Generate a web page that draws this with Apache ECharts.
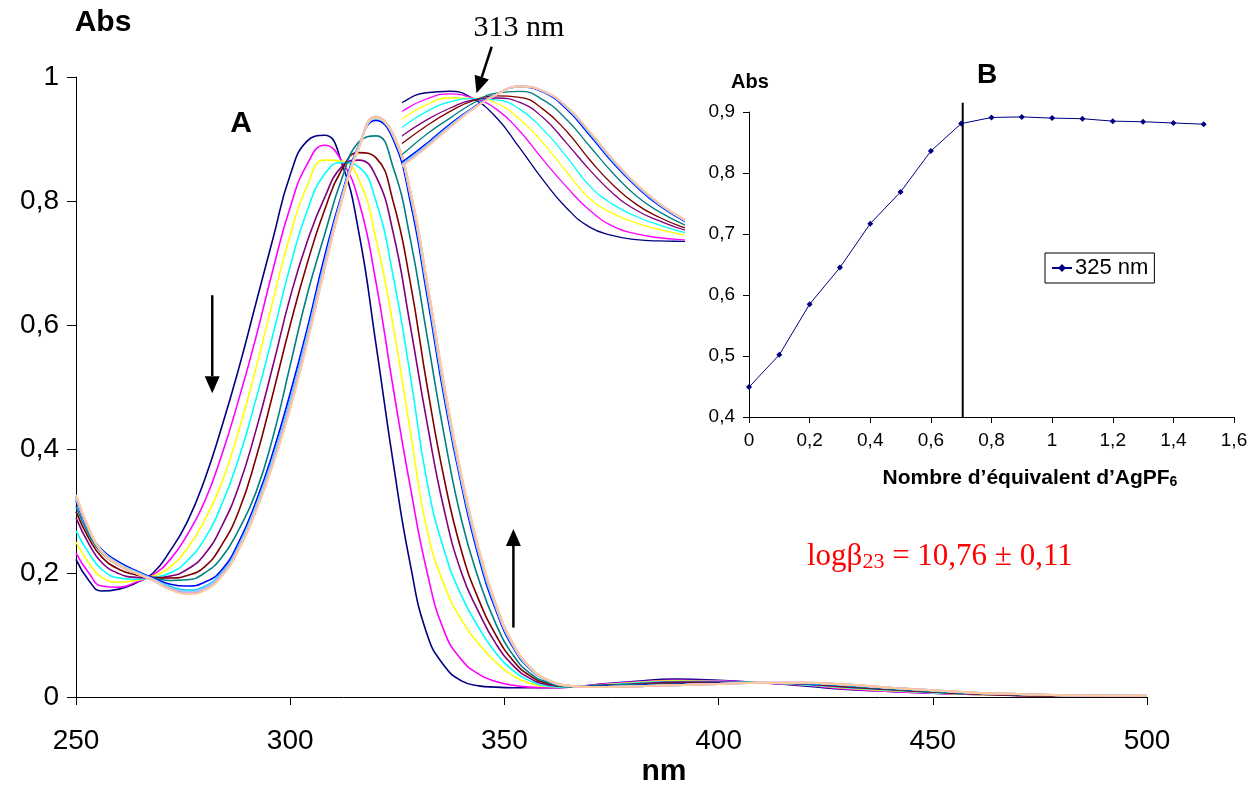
<!DOCTYPE html>
<html><head><meta charset="utf-8">
<script src="https://cdn.jsdelivr.net/npm/echarts@6/dist/echarts.min.js"></script>
<style>html,body{margin:0;padding:0;background:#fff}#c{width:1257px;height:786px}</style>
</head><body><div id="c"></div>
<script>
// ---- Data (panel A: UV-vis spectra) ----
const wavelengths = [250,253,256,260,264,268,272,276,280,284,288,292,296,300,304,308,312,316,320,324,328,332,336,340,344,348,352,356,360,365,370,380,390,400,410,420,430,440,450,460,480,500];
const spec00 = [0.222,0.188,0.171,0.174,0.184,0.2,0.236,0.283,0.35,0.435,0.53,0.635,0.74,0.842,0.897,0.906,0.862,0.75,0.57,0.38,0.215,0.1,0.05,0.026,0.018,0.016,0.015,0.015,0.015,0.016,0.019,0.025,0.029,0.027,0.023,0.018,0.012,0.009,0.006,0.004,0.002,0.002];
const spec01 = [0.232,0.2,0.179,0.177,0.185,0.197,0.222,0.262,0.315,0.39,0.48,0.58,0.69,0.79,0.86,0.89,0.865,0.8,0.67,0.5,0.34,0.2,0.105,0.06,0.037,0.025,0.019,0.016,0.015,0.016,0.019,0.024,0.027,0.026,0.023,0.019,0.013,0.009,0.006,0.004,0.002,0.002];
const spec02 = [0.25,0.216,0.193,0.185,0.188,0.195,0.21,0.24,0.285,0.345,0.43,0.53,0.64,0.745,0.825,0.866,0.864,0.835,0.74,0.6,0.43,0.268,0.18,0.124,0.086,0.056,0.034,0.022,0.017,0.016,0.018,0.023,0.026,0.025,0.023,0.02,0.014,0.01,0.007,0.004,0.002,0.002];
const spec03 = [0.268,0.232,0.206,0.192,0.19,0.193,0.2,0.22,0.255,0.31,0.385,0.48,0.585,0.695,0.785,0.843,0.862,0.855,0.8,0.68,0.52,0.345,0.235,0.163,0.112,0.071,0.043,0.026,0.018,0.016,0.018,0.022,0.025,0.025,0.023,0.02,0.015,0.011,0.007,0.005,0.002,0.002];
const spec04 = [0.289,0.247,0.217,0.199,0.193,0.192,0.195,0.206,0.23,0.275,0.34,0.43,0.535,0.645,0.735,0.805,0.855,0.866,0.84,0.75,0.6,0.44,0.3,0.2,0.137,0.086,0.051,0.03,0.02,0.017,0.018,0.021,0.024,0.024,0.023,0.021,0.016,0.012,0.008,0.005,0.002,0.002];
const spec05 = [0.299,0.256,0.226,0.206,0.197,0.193,0.192,0.196,0.21,0.245,0.3,0.385,0.49,0.6,0.7,0.785,0.85,0.878,0.87,0.8,0.67,0.5,0.35,0.235,0.157,0.1,0.059,0.034,0.022,0.017,0.018,0.02,0.022,0.023,0.023,0.021,0.017,0.012,0.008,0.005,0.002,0.002];
const spec06 = [0.307,0.262,0.232,0.212,0.2,0.192,0.188,0.189,0.2,0.225,0.27,0.33,0.42,0.535,0.65,0.745,0.835,0.895,0.905,0.855,0.74,0.58,0.42,0.285,0.19,0.118,0.068,0.038,0.024,0.017,0.018,0.02,0.021,0.022,0.023,0.022,0.018,0.013,0.009,0.006,0.003,0.002];
const spec07 = [0.316,0.268,0.238,0.218,0.204,0.192,0.182,0.179,0.185,0.205,0.25,0.315,0.395,0.49,0.595,0.71,0.81,0.89,0.93,0.9,0.8,0.645,0.48,0.34,0.225,0.14,0.08,0.045,0.027,0.018,0.017,0.018,0.02,0.022,0.023,0.022,0.019,0.014,0.01,0.006,0.003,0.002];
const spec08 = [0.32,0.27,0.236,0.215,0.202,0.19,0.178,0.172,0.178,0.2,0.244,0.308,0.386,0.478,0.585,0.7,0.805,0.888,0.933,0.905,0.81,0.656,0.49,0.348,0.232,0.145,0.083,0.046,0.027,0.018,0.016,0.017,0.019,0.021,0.023,0.022,0.019,0.015,0.01,0.006,0.003,0.002];
const spec09 = [0.324,0.271,0.235,0.214,0.201,0.189,0.175,0.169,0.175,0.197,0.24,0.304,0.38,0.472,0.578,0.695,0.802,0.887,0.936,0.907,0.814,0.662,0.496,0.352,0.236,0.147,0.085,0.047,0.028,0.018,0.016,0.017,0.019,0.021,0.023,0.023,0.02,0.015,0.011,0.007,0.003,0.002];
const spec10 = [0.323,0.271,0.235,0.214,0.2,0.189,0.175,0.168,0.174,0.196,0.239,0.302,0.378,0.469,0.576,0.693,0.801,0.886,0.935,0.907,0.815,0.664,0.498,0.354,0.237,0.148,0.085,0.047,0.028,0.018,0.016,0.017,0.019,0.021,0.023,0.023,0.02,0.015,0.011,0.007,0.003,0.002];
const spec11 = [0.325,0.272,0.234,0.213,0.2,0.188,0.174,0.167,0.173,0.196,0.239,0.301,0.377,0.467,0.574,0.692,0.8,0.885,0.934,0.907,0.816,0.666,0.5,0.355,0.238,0.149,0.086,0.048,0.028,0.018,0.016,0.017,0.019,0.021,0.023,0.023,0.02,0.015,0.011,0.007,0.003,0.002];
const spec12 = [0.322,0.27,0.235,0.214,0.201,0.19,0.176,0.17,0.176,0.198,0.242,0.306,0.383,0.475,0.582,0.698,0.804,0.888,0.935,0.906,0.812,0.66,0.494,0.35,0.234,0.146,0.084,0.047,0.027,0.018,0.016,0.017,0.019,0.021,0.023,0.023,0.02,0.015,0.011,0.007,0.003,0.002];
const spec13 = [0.325,0.272,0.234,0.213,0.2,0.188,0.174,0.167,0.173,0.195,0.238,0.3,0.376,0.466,0.573,0.69,0.8,0.885,0.935,0.908,0.817,0.667,0.501,0.356,0.239,0.15,0.086,0.048,0.028,0.018,0.016,0.017,0.019,0.021,0.023,0.023,0.02,0.015,0.011,0.007,0.003,0.002];
const spec14 = [0.324,0.271,0.234,0.213,0.2,0.188,0.174,0.167,0.173,0.196,0.239,0.301,0.377,0.468,0.575,0.692,0.801,0.886,0.936,0.908,0.816,0.666,0.5,0.355,0.238,0.149,0.086,0.048,0.028,0.018,0.016,0.017,0.019,0.021,0.023,0.023,0.02,0.015,0.011,0.007,0.003,0.002];
const spec15 = [0.326,0.272,0.234,0.213,0.2,0.188,0.173,0.166,0.172,0.195,0.238,0.3,0.375,0.465,0.572,0.69,0.8,0.885,0.935,0.908,0.818,0.668,0.502,0.357,0.24,0.15,0.086,0.048,0.028,0.018,0.016,0.017,0.019,0.021,0.023,0.023,0.02,0.015,0.011,0.007,0.003,0.002];
const spectra = [spec00,spec01,spec02,spec03,spec04,spec05,spec06,spec07,spec08,spec09,spec10,spec11,spec12,spec13,spec14,spec15];
const spectrumColors = ['#000080','#FF00FF','#FFFF00','#00FFFF','#800080','#800000','#008080','#0000FF','#00CCFF','#CCFFFF','#CCFFCC','#FFFF99','#99CCFF','#FF99CC','#CC99FF','#FFCC99'];

// ---- Data (panel B: titration at 325 nm) ----
const equivalents = [0,0.1,0.2,0.3,0.4,0.5,0.6,0.7,0.8,0.9,1.0,1.1,1.2,1.3,1.4,1.5];
const abs325 = [0.449,0.502,0.585,0.645,0.717,0.769,0.836,0.881,0.891,0.892,0.890,0.889,0.885,0.884,0.882,0.880];
const endpointLine = [[0.705,0.4],[0.705,0.915]];

// ---- Annotations (data coordinates) ----
const arrowDown = [[281.8,0.648],[281.8,0.49]];
const arrowUp = [[352.1,0.112],[352.1,0.271]];
const arrowIso = [[315.2,1.17],[312.6,0.894]];

const fmtComma = v => String(+v.toFixed(2)).replace('.', ',');
const SANS = 'Liberation Sans';
const SERIF = 'Liberation Serif';

const chart = echarts.init(document.getElementById('c'), null, {renderer:'canvas'});

const series = [];
spectra.forEach((s, i) => {
  series.push({
    name: 'A' + i, type: 'line', xAxisIndex: 0, yAxisIndex: 0,
    data: wavelengths.map((w, j) => [w, s[j]]),
    showSymbol: false, symbol: 'none', smooth: 0.5,
    lineStyle: {color: spectrumColors[i], width: i >= 8 ? 2 : 1.6},
    itemStyle: {color: spectrumColors[i]}, silent: true, z: 2
  });
});
spectra.forEach((s, i) => {
  series.push({
    name: 'Z' + i, type: 'line', xAxisIndex: 1, yAxisIndex: 1,
    data: wavelengths.map((w, j) => [w, s[j]]),
    showSymbol: false, symbol: 'none', smooth: 0.5, clip: true,
    lineStyle: {color: spectrumColors[i], width: i >= 8 ? 1.6 : 1.3},
    itemStyle: {color: spectrumColors[i]}, silent: true, z: 3
  });
});
series.push({
  name: '325 nm', type: 'line', xAxisIndex: 2, yAxisIndex: 2,
  data: equivalents.map((e, i) => [e, abs325[i]]),
  symbol: 'diamond', symbolSize: 6,
  lineStyle: {color: '#000080', width: 1}, itemStyle: {color: '#000080'}, z: 4
});
series.push({
  name: 'endpoint', type: 'line', xAxisIndex: 2, yAxisIndex: 2,
  data: endpointLine, symbol: 'none', clip: false,
  lineStyle: {color: '#000', width: 2}, silent: true, z: 4
});

const axisLine = {show: true, lineStyle: {color: '#000', width: 1}};

chart.setOption({
  animation: false,
  backgroundColor: '#fff',
  grid: [
    {left: 76, top: 77, width: 1071, height: 620},
    {left: 403, top: 75.4, width: 280, height: 168.6},
    {left: 749, top: 112, width: 485, height: 305}
  ],
  xAxis: [
    {gridIndex: 0, type: 'value', min: 250, max: 500, interval: 50,
     axisLine: axisLine, axisTick: {show: true, length: 8, lineStyle: {color: '#000'}},
     splitLine: {show: false},
     axisLabel: {fontSize: 28, fontFamily: SANS, color: '#000', margin: 30}},
    {gridIndex: 1, type: 'value', min: 300, max: 348, show: false},
    {gridIndex: 2, type: 'value', min: 0, max: 1.6, interval: 0.2,
     axisLine: axisLine, axisTick: {show: true, length: 6, lineStyle: {color: '#000'}},
     splitLine: {show: false},
     axisLabel: {fontSize: 19, fontFamily: SANS, color: '#000', margin: 14, formatter: fmtComma}}
  ],
  yAxis: [
    {gridIndex: 0, type: 'value', min: 0, max: 1, interval: 0.2,
     axisLine: axisLine, axisTick: {show: true, length: 9, lineStyle: {color: '#000'}},
     splitLine: {show: false},
     axisLabel: {fontSize: 28, fontFamily: SANS, color: '#000', margin: 17, formatter: fmtComma}},
    {gridIndex: 1, type: 'value', min: 0, max: 1, show: false},
    {gridIndex: 2, type: 'value', min: 0.4, max: 0.9, interval: 0.1,
     axisLine: axisLine, axisTick: {show: true, length: 6, lineStyle: {color: '#000'}},
     splitLine: {show: false},
     axisLabel: {fontSize: 19, fontFamily: SANS, color: '#000', margin: 14, formatter: fmtComma}}
  ],
  legend: {
    data: ['325 nm'], left: 1045, top: 253, orient: 'horizontal',
    borderColor: '#000', borderWidth: 1, padding: [4, 6, 4, 6],
    itemWidth: 20, itemHeight: 10, itemGap: 4,
    textStyle: {fontSize: 22, fontFamily: SANS, color: '#000', padding: [0,0,0,-2]},
    backgroundColor: '#fff'
  },
  series: series
});

function arrowGraphics(pts, finder) {
  const p0 = chart.convertToPixel(finder, pts[0]);
  const p1 = chart.convertToPixel(finder, pts[1]);
  const dx = p1[0] - p0[0], dy = p1[1] - p0[1];
  const len = Math.sqrt(dx*dx + dy*dy);
  const ux = dx/len, uy = dy/len;
  const hl = 17, hw = 7.5;
  const bx = p1[0] - ux*hl, by = p1[1] - uy*hl;
  return [
    {type: 'line', shape: {x1: p0[0], y1: p0[1], x2: bx, y2: by}, style: {stroke: '#000', lineWidth: 2.5}, z: 100},
    {type: 'polygon', shape: {points: [[p1[0], p1[1]], [bx - uy*hw, by + ux*hw], [bx + uy*hw, by - ux*hw]]}, style: {fill: '#000'}, z: 100}
  ];
}

const g = [];
g.push(...arrowGraphics(arrowDown, {xAxisIndex: 0, yAxisIndex: 0}));
g.push(...arrowGraphics(arrowUp, {xAxisIndex: 0, yAxisIndex: 0}));
g.push(...arrowGraphics(arrowIso, {xAxisIndex: 1, yAxisIndex: 1}));
const txt = (x, y, text, font, extra) => Object.assign({type: 'text', x: x, y: y, z: 100,
  style: Object.assign({text: text, font: font, fill: '#000', textAlign: 'center', textVerticalAlign: 'middle'}, extra || {})});
g.push(txt(103, 23, 'Abs', 'bold 30px ' + SANS));
g.push(txt(664, 772, 'nm', 'bold 30px ' + SANS));
g.push(txt(241, 124, 'A', 'bold 30px ' + SANS));
g.push(txt(750, 82, 'Abs', 'bold 20px ' + SANS));
g.push(txt(987, 75, 'B', 'bold 28px ' + SANS));
g.push(txt(519, 28, '313 nm', '30px ' + SERIF));
g.push({type: 'text', x: 1030, y: 478, z: 100, style: {
  text: '{a|Nombre d\u2019\u00e9quivalent d\u2019AgPF}{s|6}', textAlign: 'center', textVerticalAlign: 'middle',
  rich: {a: {font: 'bold 21px ' + SANS, fill: '#000'}, s: {font: 'bold 14px ' + SANS, fill: '#000', padding: [8,0,0,0]}}}});
g.push({type: 'text', x: 807, y: 557, z: 100, style: {
  text: '{a|log\u03b2}{s|23}{a| = 10,76 \u00b1 0,11}', textAlign: 'left', textVerticalAlign: 'middle',
  rich: {a: {font: '31px ' + SERIF, fill: '#ff0000'}, s: {font: '22px ' + SERIF, fill: '#ff0000', padding: [10,0,0,0]}}}});
chart.setOption({graphic: g});
</script></body></html>
